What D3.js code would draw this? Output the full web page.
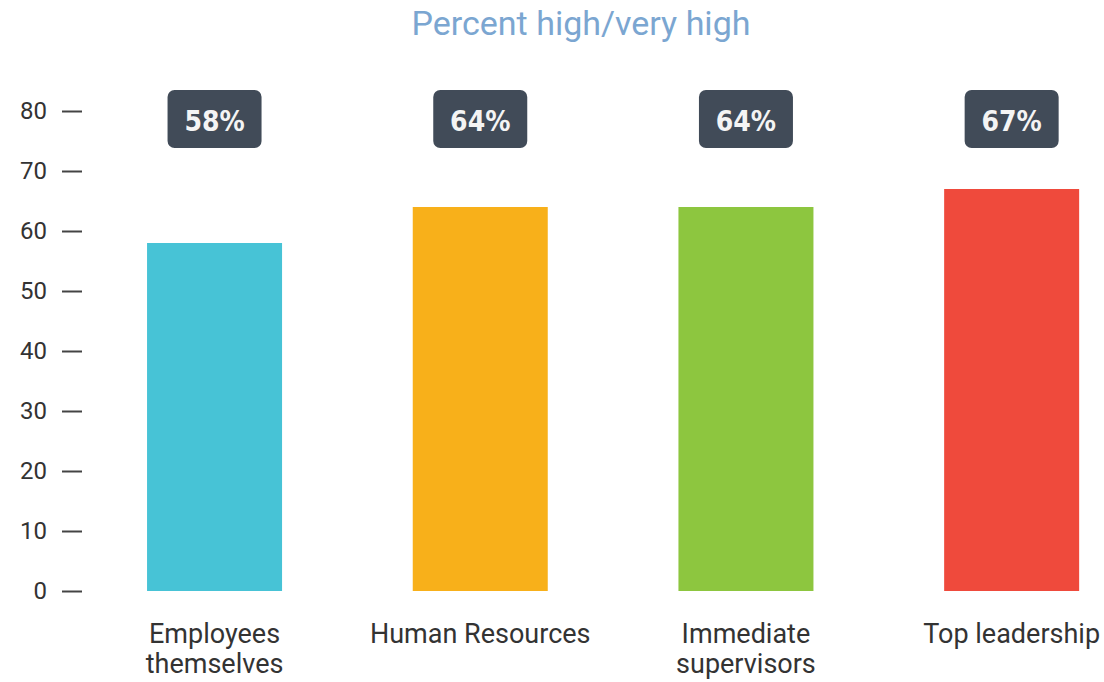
<!DOCTYPE html>
<html>
<head>
<meta charset="utf-8">
<script src="https://cdn.jsdelivr.net/npm/d3@7"></script>
<style>
  body { margin: 0; background: #fff; }
  svg { display: block; font-family: Roboto, "Noto Sans", sans-serif; }
</style>
</head>
<body>
<div id="vis"></div>
<script>
// chart data
var categories = ['Employees themselves', 'Human Resources', 'Immediate supervisors', 'Top leadership'];
var labelLines = [['Employees', 'themselves'], ['Human Resources'], ['Immediate', 'supervisors'], ['Top leadership']];
var values = [58, 64, 64, 67];
var yTicks = [0, 10, 20, 30, 40, 50, 60, 70, 80];
var barColors = ['#47c3d6', '#f8b01a', '#8dc63f', '#ef4a3c'];
var title = 'Percent high/very high';

var width = 1104;
var height = 682;

var svg = d3.select('#vis')
    .append('svg')
        .attr('width', width)
        .attr('height', height);

var x_scale = d3.scalePoint()
    .domain(categories)
    .range([81.7, 1144.5])
    .padding(0.5);

var y_scale = d3.scaleLinear()
    .domain([0, 80])
    .range([591, 111]);

var barWidth = 135;

// title
svg.append('text')
    .attr('x', 581)
    .attr('y', 35)
    .attr('text-anchor', 'middle')
    .attr('fill', '#7ba6d1')
    .attr('font-size', 34)
    .text(title);

// y axis: labels + short dashes, no domain line
var yAxis = d3.axisLeft(y_scale)
    .tickValues(yTicks)
    .tickSize(20)
    .tickPadding(15);

var ax = svg.append('g')
    .attr('transform', 'translate(82,0)')
    .call(yAxis);
ax.select('.domain').remove();
ax.selectAll('.tick line')
    .attr('stroke', '#444')
    .attr('stroke-width', 2);
ax.selectAll('.tick text')
    .attr('fill', '#333')
    .attr('font-size', 24)
    .attr('font-family', 'Roboto, "Noto Sans", sans-serif');

// bars
svg.selectAll('.bar')
    .data(values)
    .enter()
    .append('rect')
        .attr('class', 'bar')
        .attr('x', function(d, i){ return x_scale(categories[i]) - barWidth / 2; })
        .attr('y', function(d){ return y_scale(d); })
        .attr('width', barWidth)
        .attr('height', function(d){ return y_scale(0) - y_scale(d); })
        .attr('fill', function(d, i){ return barColors[i]; });

// value badges
var badge = svg.selectAll('.badge')
    .data(values)
    .enter()
    .append('g')
        .attr('class', 'badge')
        .attr('transform', function(d, i){ return 'translate(' + x_scale(categories[i]) + ',0)'; });

badge.append('rect')
    .attr('x', -47)
    .attr('y', 90)
    .attr('width', 94)
    .attr('height', 58)
    .attr('rx', 7)
    .attr('fill', '#414b58');

badge.append('text')
    .attr('x', 0)
    .attr('y', 131)
    .attr('text-anchor', 'middle')
    .attr('fill', '#f4f4f4')
    .attr('font-size', 28)
    .attr('font-weight', 'bold')
    .attr('font-family', '"DejaVu Sans Condensed", "DejaVu Sans", sans-serif')
    .text(function(d){ return d + '%'; });

// category labels
var cat = svg.selectAll('.cat')
    .data(labelLines)
    .enter()
    .append('text')
        .attr('class', 'cat')
        .attr('text-anchor', 'middle')
        .attr('fill', '#333')
        .attr('font-size', 27)
        .attr('x', function(d, i){ return x_scale(categories[i]); })
        .attr('y', 643);

cat.selectAll('tspan')
    .data(function(d){ return d; })
    .enter()
    .append('tspan')
        .attr('x', function(){ return this.parentNode.getAttribute('x'); })
        .attr('dy', function(d, i){ return i == 0 ? 0 : 30; })
        .text(function(d){ return d; });
</script>
</body>
</html>
